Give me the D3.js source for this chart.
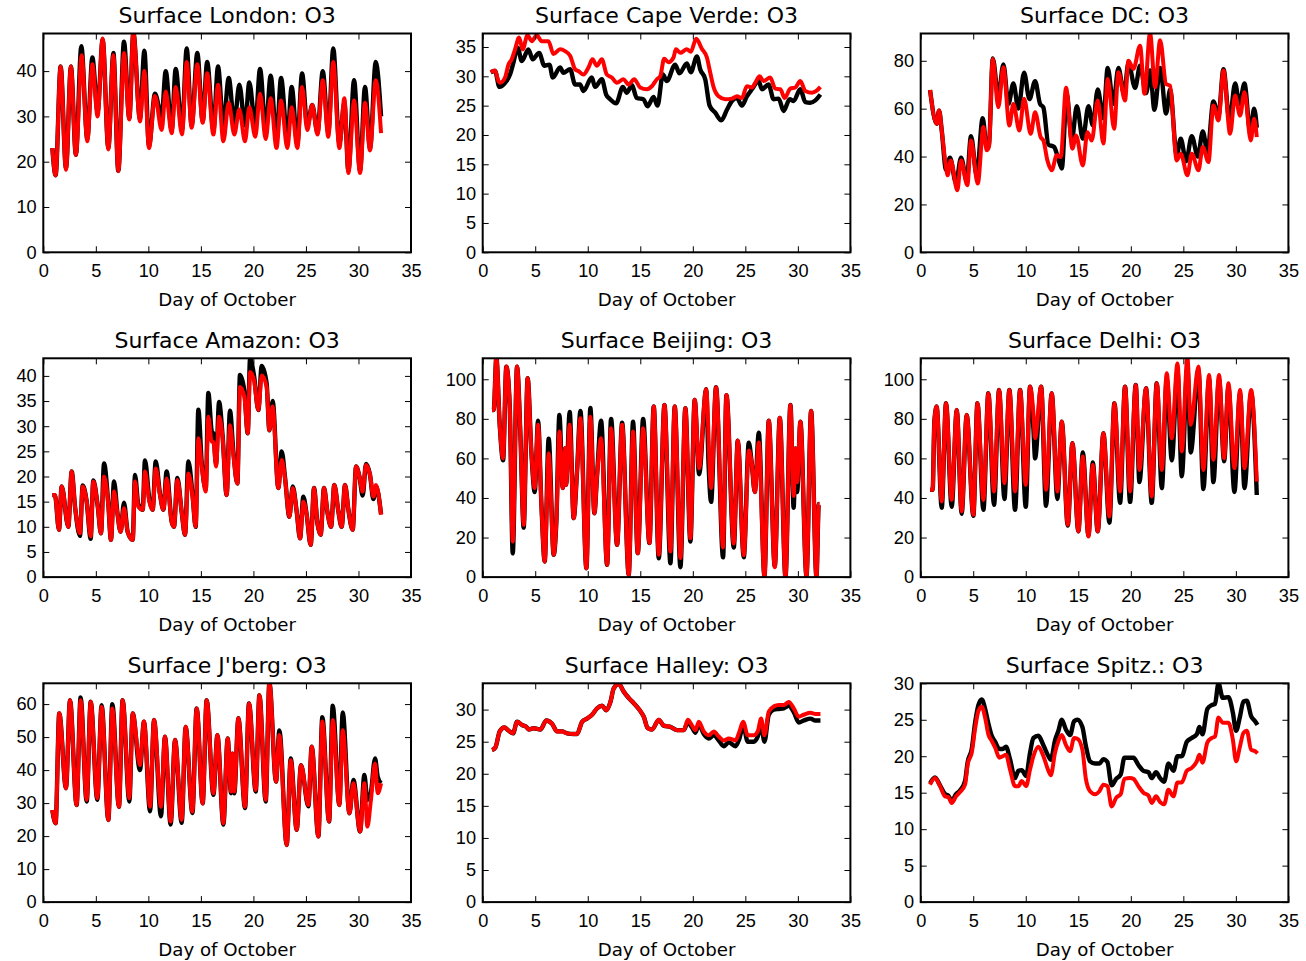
<!DOCTYPE html>
<html>
<head>
<meta charset="utf-8">
<script src="https://cdn.jsdelivr.net/npm/d3@7"></script>
<style>
  body { margin: 0; background: #fff; }
  svg { display: block; font-family: "DejaVu Sans", sans-serif; }
  .tick line { stroke: #000; stroke-width: 1; }
  .tick text { fill: #000; font-size: 18.2px; }
</style>
</head>
<body>
<svg id="chart" width="1306" height="961"></svg>
<script>
// ---- data: [day of October, O3] pairs ----
var xTicks = [0, 5, 10, 15, 20, 25, 30, 35];

var londonBlack = [[0.86,23],[1.17,17],[1.65,41],[2.16,18.5],[2.63,41],[3.1,21.5],[3.62,45.5],[4.19,25],[4.67,43],[5.17,31],[5.65,47],[6.19,23],[6.67,44],[7.14,18],[7.68,46.5],[8.19,29.5],[8.57,48.5],[9.2,29.5],[9.62,44.5],[10.06,23.5],[10.63,35],[11.27,30],[11.65,40],[12.22,27],[12.6,40.5],[13.2,27],[13.65,45],[14.12,28],[14.66,44],[15.17,29],[15.6,42],[16.19,27],[16.63,41],[17.14,28],[17.65,38.5],[18.18,28.5],[18.66,37],[19.2,28],[19.61,37.5],[20.18,28],[20.63,40.5],[21.17,27],[21.64,39],[22.2,25],[22.63,38.5],[23.23,25],[23.64,36.5],[24.18,24],[24.63,39.5],[25.13,28],[25.6,32.5],[26.1,26.5],[26.6,40],[27.13,26.5],[27.6,45],[28.18,24],[28.66,33],[29.04,18],[29.58,38],[30.15,18],[30.62,36.5],[31.1,23],[31.64,42],[32.15,30]];
var londonRed = [[0.86,23],[1.17,17],[1.65,41],[2.16,18.2],[2.63,41],[3.1,21.5],[3.65,43.5],[4.19,24.5],[4.67,41.5],[5.17,30],[5.65,47.2],[6.19,22.7],[6.67,43.5],[7.14,17.9],[7.68,44],[8.19,29.3],[8.57,48.5],[9.2,28.9],[9.62,40],[10.06,23],[10.63,34.5],[11.27,27],[11.65,35.5],[12.22,26.3],[12.6,36.5],[13.2,26],[13.65,42],[14.12,27.5],[14.66,41.5],[15.17,28.6],[15.6,39.5],[16.19,26],[16.63,37],[17.14,24.5],[17.65,33],[18.18,26],[18.66,31.5],[19.2,24.5],[19.61,32],[20.18,25.5],[20.63,35],[21.17,25],[21.64,34],[22.2,23],[22.63,33.5],[23.23,23],[23.64,32],[24.18,23],[24.63,36.5],[25.13,27],[25.6,32.5],[26.1,26],[26.6,38],[27.13,25.5],[27.6,42],[28.18,23],[28.66,34],[29.04,17.5],[29.58,33.5],[30.15,17.5],[30.62,33],[31.1,22.5],[31.64,38],[32.15,26.3]];

var capeBlack = [[0.76,30.7],[1.17,30.9],[1.59,28.2],[2.13,28.9],[2.6,30.3],[2.92,32.3],[3.33,34.9],[3.72,32.6],[4.35,34.6],[4.76,32.9],[5.37,34],[5.87,31.8],[6.35,32],[6.67,29.8],[7.37,31.5],[7.68,30.6],[8.32,31.2],[8.8,28.6],[9.27,28.6],[9.59,27.5],[10.38,29.8],[10.7,28.2],[11.34,29.5],[11.75,26.9],[12.13,26.1],[12.7,25.4],[13.34,28.2],[13.72,27.2],[14.19,28.5],[14.67,26.3],[15.3,26.1],[15.69,24.9],[16.26,26.5],[16.64,25],[17.15,30.3],[17.53,29.2],[18.32,32],[18.73,30.5],[19.43,32.2],[19.81,30.7],[20.39,33.4],[20.7,31.2],[21.18,29.5],[21.6,25],[22.13,23.8],[22.71,22.5],[23.25,24.3],[23.72,25.8],[24.2,26.3],[24.67,25],[25.15,26.6],[25.63,27.8],[26.26,29.2],[26.58,27.8],[27.21,28.6],[27.69,26.1],[28.17,26.2],[28.64,24.1],[29.22,26.1],[29.6,25.8],[30.23,27.8],[30.71,25.6],[31.18,25.5],[31.66,25.9],[32.14,26.9]];
var capeRed = [[0.76,30.7],[1.17,31],[1.5,29.2],[1.65,28.9],[2.13,29.8],[2.45,32],[2.76,32.9],[3.08,34.6],[3.46,36.6],[3.81,34.6],[4.26,37],[4.67,36],[5.14,37],[5.62,36],[6.26,36],[6.73,33.8],[7.37,34.6],[7.84,34.3],[8.32,33.5],[8.8,31.2],[9.11,30.9],[9.59,30.3],[10.07,31.5],[10.45,32.9],[10.86,31.8],[11.34,32.9],[11.81,30.3],[12.29,29.8],[12.77,28.9],[13.4,29.5],[13.88,28.6],[14.42,29.5],[14.99,28.1],[15.62,27.8],[16.1,28.3],[16.58,29.5],[16.9,30],[17.27,33],[17.69,32.4],[18.16,33.2],[18.39,34.6],[18.8,34],[19.43,34.6],[19.81,34.2],[20.32,36.4],[20.86,34.7],[21.34,33.2],[21.66,30.6],[21.97,28.2],[22.45,26.6],[23.09,26.1],[23.72,26.2],[24.2,26.6],[24.67,26.3],[25.15,28.3],[25.63,28.1],[25.94,28.9],[26.36,30],[26.74,29.2],[27.37,29.8],[27.85,27.9],[28.33,27.8],[28.74,26.3],[29.28,27.9],[29.76,28.1],[30.23,29.2],[30.71,27.5],[31.34,27.2],[31.76,27.5],[32.14,28.2]];

var dcBlack = [[0.89,67.8],[1.52,53.7],[1.75,59.2],[2.0,51],[2.41,34.5],[2.79,39.5],[3.36,29],[3.84,39.5],[4.38,30],[4.79,48.5],[5.33,32],[5.9,56],[6.28,44],[6.5,45],[6.86,81],[7.39,65],[7.87,78.5],[8.35,62],[8.82,70.5],[9.3,60],[9.84,75],[10.35,64],[10.89,71.5],[11.36,62],[11.68,60.5],[12.16,45],[12.7,44],[13.1,39],[13.43,35],[13.9,66],[14.38,47],[14.86,61],[15.43,47.5],[15.97,61],[16.38,53],[16.85,68],[17.39,56],[17.8,77],[18.34,62],[18.82,77],[19.36,66],[19.77,79],[20.41,68.7],[20.88,78],[21.46,66.5],[21.83,76],[22.25,59.5],[22.79,77],[23.36,58],[23.74,68],[24.37,40.5],[24.75,47.5],[25.26,38],[25.8,48.5],[26.38,40],[26.85,50.5],[27.3,42],[27.86,63],[28.34,57],[28.82,76.5],[29.39,55],[29.93,70.5],[30.34,62],[30.82,70.5],[31.36,50.5],[31.74,60],[31.99,52]];
var dcRed = [[0.89,67.8],[1.52,53.7],[1.75,59.2],[2.0,50.9],[2.41,35.6],[2.57,32.2],[2.86,38.4],[3.49,25.9],[3.84,38.4],[4.44,28],[4.79,46.7],[5.43,28.7],[5.97,52.3],[6.28,42.6],[6.5,44],[6.86,80.7],[7.39,60.6],[7.87,77.3],[8.44,53],[8.82,62],[9.39,50.9],[9.84,64.1],[10.47,49.5],[10.89,58.5],[11.42,48.1],[11.68,46.7],[12.06,38.4],[12.47,34.3],[12.95,40.5],[13.33,39.8],[13.84,68.7],[14.44,43.3],[14.79,48.8],[15.43,36.3],[15.87,50.2],[16.28,46.7],[16.85,63.4],[17.39,45.4],[17.8,72.4],[18.41,51.6],[18.82,75.2],[19.45,63.4],[19.77,80],[20.25,76.6],[20.88,86.3],[21.3,66.2],[21.83,91.5],[22.31,69],[22.79,88.6],[23.36,70.3],[23.74,69.6],[24.37,38.4],[24.75,41.2],[25.39,32.2],[25.8,41.2],[26.44,34.3],[26.85,44],[27.39,37.7],[27.86,61.3],[28.34,55.1],[28.82,75.9],[29.45,49.5],[29.93,65.5],[30.4,57.1],[30.82,66.9],[31.42,46.7],[31.74,55.8],[31.99,48.1]];

var amazonBlack = [[0.86,16.3],[1.11,16.3],[1.49,9.4],[1.75,18],[2.38,10],[2.7,21],[3.02,14],[3.49,8.2],[3.75,18.2],[4.13,15],[4.51,7.6],[4.76,19.2],[5.17,14.3],[5.49,8.7],[5.78,22.6],[6.19,14.5],[6.44,7.4],[6.73,19],[7.05,12.9],[7.36,9],[7.68,14.8],[8.03,9],[8.51,7.4],[8.73,20.3],[9.04,14.5],[9.46,13.4],[9.68,23.2],[10.09,15.5],[10.41,13.4],[10.7,23],[11.11,16.5],[11.43,13.4],[11.74,21],[12.22,11],[12.44,10],[12.76,19.7],[13.17,13],[13.49,8.4],[13.81,23],[14.22,16],[14.5,10],[14.76,33.3],[15.07,23],[15.46,17.5],[15.71,36.6],[16.03,29],[16.19,28.5],[16.44,22.5],[16.73,34.8],[17.07,28],[17.45,16.3],[17.77,33.1],[18.09,25],[18.47,18.6],[18.72,40.2],[19.14,37],[19.46,28.6],[19.68,43.5],[20.06,40],[20.47,33.2],[20.79,42],[21.26,38.5],[21.52,29.2],[21.83,35],[22.37,17.7],[22.69,25],[23.01,19.8],[23.42,12],[23.74,18],[24.12,13],[24.44,7.7],[24.75,16],[25.07,12.4],[25.45,6.4],[25.77,17.7],[26.09,10.7],[26.4,8.4],[26.72,17.7],[27.04,13],[27.39,10],[27.7,18.3],[28.09,13],[28.4,10],[28.72,18.3],[29.04,13.4],[29.45,9.4],[29.77,22],[30.09,20],[30.4,16.2],[30.72,22.5],[31.1,20.3],[31.42,15.5],[31.67,18],[32.15,12.5]];
var amazonRed = [[0.86,16.3],[1.11,16.3],[1.49,9.4],[1.75,18],[2.38,10],[2.7,21],[3.02,14],[3.49,8.7],[3.75,18],[4.13,15],[4.51,8.1],[4.76,19],[5.17,14.3],[5.49,8.7],[5.78,20],[6.19,14.3],[6.44,7.4],[6.73,17],[7.05,12.7],[7.36,9],[7.68,13.7],[8.03,9],[8.51,7.4],[8.73,19],[9.04,14],[9.46,13.4],[9.68,21],[10.09,15],[10.41,13.4],[10.7,21.6],[11.11,16.3],[11.43,13.4],[11.74,19.6],[12.22,11],[12.44,10],[12.76,19.3],[13.17,13],[13.49,8.4],[13.81,20.6],[14.22,15.7],[14.5,10],[14.76,27.6],[15.07,22.3],[15.46,17],[15.71,31.9],[16.03,26.9],[16.19,26.9],[16.44,22],[16.73,31.9],[17.07,27.6],[17.45,16.3],[17.77,30.2],[18.09,24.3],[18.47,18.6],[18.72,37.8],[19.14,35.8],[19.46,28.6],[19.68,40.8],[20.06,39.1],[20.47,33.2],[20.79,40.1],[21.26,37.8],[21.52,29.2],[21.83,33.9],[22.37,17.7],[22.69,23.3],[23.01,19.6],[23.42,12],[23.74,17.7],[24.12,13],[24.44,7.7],[24.75,15],[25.07,12.4],[25.45,6.4],[25.77,17.7],[26.09,10.7],[26.4,8.4],[26.72,17.7],[27.04,13],[27.39,10],[27.7,18.3],[28.09,13],[28.4,10],[28.72,18.3],[29.04,13.4],[29.45,9.4],[29.77,22],[30.09,20],[30.4,17],[30.72,22.3],[31.1,20.3],[31.42,16],[31.67,18.3],[32.15,12.4]];

var beijingBlack = [[0.89,84.5],[1.05,84.5],[1.3,111],[1.62,77],[1.94,59],[2.25,106.4],[2.57,87],[2.86,12],[3.27,106.4],[3.59,71.9],[3.9,25],[4.28,100.5],[4.63,63.5],[4.95,43],[5.27,79],[5.59,36.5],[5.9,7.9],[6.28,70],[6.76,11.3],[7.01,28],[7.3,82],[7.62,45],[7.87,65.2],[7.93,46.6],[8.28,83.5],[8.66,29.8],[8.98,53.4],[9.3,84],[9.87,4.5],[10.25,85.5],[10.63,32.3],[10.89,51.7],[11.27,79],[11.84,6.2],[12.22,80],[12.79,16.3],[13.27,78],[13.9,1.2],[14.31,78.5],[14.76,12.1],[15.27,80],[15.87,17.2],[16.28,86.2],[16.76,9.5],[17.3,87],[17.87,7],[18.28,86.2],[18.82,5],[19.29,85.4],[19.77,18],[20.18,89.6],[20.6,52],[21.27,95],[21.5,57],[21.74,38],[22.21,96],[22.88,10],[23.2,92],[23.9,15],[24.28,69],[24.85,10],[25.33,68],[25.6,58],[25.9,43],[26.28,73],[26.82,0.5],[27.23,79],[27.8,5.5],[28.28,80.5],[28.82,0],[29.29,87],[29.6,35],[29.77,65],[29.93,43],[30.24,78.5],[30.82,0.5],[31.26,84],[31.77,0],[31.99,37],[32.05,37]];
var beijingRed = [[0.89,84.5],[1.05,84.5],[1.3,111],[1.62,77],[1.94,60],[2.25,106.4],[2.57,87],[2.86,18],[3.27,106.4],[3.59,71.9],[3.9,26.4],[4.28,100.5],[4.63,63.5],[4.95,45],[5.27,77],[5.59,36.5],[5.9,7.9],[6.28,62.6],[6.76,11.3],[7.01,28],[7.3,73.6],[7.62,45],[7.87,65.2],[7.93,46.6],[8.28,77],[8.66,29.8],[8.98,53.4],[9.3,80.3],[9.87,4.5],[10.25,81.1],[10.63,32.3],[10.89,51.7],[11.27,70.2],[11.84,6.2],[12.22,75.3],[12.79,16.3],[13.27,77],[13.9,1.2],[14.31,73.6],[14.76,12.1],[15.27,75.3],[15.87,17.2],[16.28,86.2],[16.76,11.3],[17.3,87],[17.87,13],[18.28,86.2],[18.82,9.6],[19.29,85.4],[19.77,19.7],[20.18,89.6],[20.6,55],[21.27,95],[21.74,45],[22.21,96],[22.88,15],[23.2,92],[23.9,17],[24.28,69],[24.85,11],[25.33,64],[25.6,58],[25.9,43],[26.28,68],[26.82,0.5],[27.23,79],[27.8,5],[28.28,80.5],[28.82,0],[29.29,87],[29.6,41],[29.77,65],[29.93,48],[30.24,78.5],[30.82,0.5],[31.26,84],[31.77,0],[31.99,37],[32.05,37]];

var delhiBlack = [[0.89,44.1],[1.14,44.1],[1.3,78.6],[1.52,86.2],[2.0,35],[2.41,87.9],[2.95,35.5],[3.43,84.5],[3.9,32],[4.38,82],[5.01,31],[5.4,87.9],[5.97,34],[6.44,92.9],[6.98,36.5],[7.46,94.6],[7.97,39.5],[8.44,94.6],[8.98,34],[9.46,94.6],[10.0,35.5],[10.41,96.3],[10.73,75],[10.89,60],[11.46,96.3],[11.93,36],[12.47,92.9],[13.01,39.5],[13.43,78.6],[14.0,26],[14.44,67.7],[15.01,23.1],[15.43,63],[15.97,21],[16.38,58],[16.85,23.1],[17.39,72.7],[17.96,27.5],[18.44,87.9],[18.98,37.5],[19.45,96.3],[19.93,38],[20.47,97.1],[20.82,48],[21.45,95.5],[21.99,37.5],[22.47,98],[22.95,45],[23.42,100],[23.9,59],[24.44,104],[24.85,51],[25.39,106],[25.7,63],[26.44,104],[26.91,44.5],[27.45,100],[27.86,48],[28.4,100],[28.88,58.5],[29.29,96],[29.86,43],[30.4,93],[30.82,45],[31.45,93],[31.99,41.5]];
var delhiRed = [[0.89,44.1],[1.14,44.1],[1.3,78.6],[1.52,86.2],[2.0,38.2],[2.41,87.9],[2.95,39],[3.43,84.5],[3.9,33.2],[4.38,82],[5.01,31.5],[5.4,87.9],[5.97,39],[6.44,92.9],[6.98,43.3],[7.46,94.6],[7.97,47.5],[8.44,94.6],[8.98,43.3],[9.46,94.6],[10.0,46.6],[10.41,96.3],[10.73,82.8],[10.89,70.2],[11.46,96.3],[11.93,44.1],[12.47,92.9],[13.01,43.3],[13.43,78.6],[14.0,26.4],[14.44,67.7],[15.01,23.1],[15.43,61],[15.97,20.5],[16.38,56.7],[16.85,23.1],[17.39,72.7],[17.96,30.6],[18.44,87.9],[18.98,43.3],[19.45,96.3],[19.93,43.3],[20.47,97.1],[20.82,54.2],[21.45,95.5],[21.99,40.7],[22.47,98],[22.95,54.2],[23.42,103],[23.9,70.2],[24.44,108],[24.85,63.5],[25.39,111],[25.7,77],[26.44,106.4],[26.91,54.2],[27.45,102.2],[27.86,59.3],[28.4,102.2],[28.88,60.1],[29.29,98],[29.86,55],[30.4,94.6],[30.82,55],[31.45,94.6],[31.99,48.3]];

var jbergBlack = [[0.86,27.9],[1.17,23.9],[1.52,57.2],[2.16,34.5],[2.54,61.2],[3.17,29.4],[3.55,62],[4.13,30.5],[4.51,60.7],[5.14,31],[5.55,59.7],[6.19,24.9],[6.57,60],[7.2,28.9],[7.55,61.2],[8.19,30.5],[8.51,57.2],[9.2,40],[9.58,54.7],[10.16,27.5],[10.54,55.2],[11.2,26],[11.58,50.1],[12.12,23.5],[12.54,49.1],[13.17,24],[13.55,53.1],[14.19,27],[14.6,58.7],[15.17,29.9],[15.55,61.2],[16.19,32.5],[16.57,50.6],[17.14,23.5],[17.55,49.6],[17.87,33],[18.0,45],[18.18,33],[18.57,55.7],[19.2,28.5],[19.58,60.2],[20.22,33.5],[20.57,62.7],[21.17,30.5],[21.52,66.5],[22.15,36.5],[22.47,52],[23.17,17.3],[23.55,43.5],[24.12,21.9],[24.53,41.5],[25.23,29],[25.55,47.1],[26.18,19.9],[26.56,56],[27.2,24.4],[27.55,59.5],[28.18,29.4],[28.5,57.5],[29.14,26.9],[29.52,37],[30.15,21.4],[30.56,38.5],[30.85,31],[31.17,33],[31.58,43.5],[31.83,38],[32.15,36]];
var jbergRed = [[0.86,27.9],[1.17,23.9],[1.52,57.2],[2.16,34.5],[2.54,61.2],[3.17,29.4],[3.55,61.2],[4.13,31],[4.51,60.7],[5.14,31.5],[5.55,59.2],[6.19,24.9],[6.57,58.7],[7.2,28.9],[7.55,61.2],[8.19,31.5],[8.51,57.2],[9.2,41.5],[9.58,54.7],[10.16,28.9],[10.54,55.2],[11.2,28.9],[11.58,50.1],[12.12,24.4],[12.54,49.1],[13.17,24.9],[13.55,53.1],[14.19,27.4],[14.6,58.7],[15.17,29.9],[15.55,61.2],[16.19,33],[16.57,50.6],[17.14,23.9],[17.55,49.6],[17.87,33.5],[18.0,45],[18.18,33.5],[18.57,55.7],[19.2,28.9],[19.58,60.2],[20.22,34],[20.57,62.7],[21.17,31],[21.52,66.5],[22.15,36.5],[22.47,50.6],[23.17,17.3],[23.55,43],[24.12,21.9],[24.53,41.5],[25.23,29.4],[25.55,47.1],[26.18,19.9],[26.56,54.7],[27.2,24.4],[27.55,55.2],[28.18,29.4],[28.5,52.1],[29.14,26.9],[29.52,36],[30.15,21.4],[30.56,36],[30.85,22.9],[31.17,30.5],[31.58,42],[31.83,33],[32.15,36]];

var halleyBlack = [[0.89,23.7],[1.21,24.1],[1.62,26.6],[2.06,27.2],[2.48,26.7],[2.89,26.3],[3.27,28.1],[3.75,27.6],[4.16,27.3],[4.38,26.9],[4.86,27.1],[5.49,26.9],[6.06,28.3],[6.6,27.8],[7.08,26.6],[7.56,26.6],[8.03,26.3],[8.66,26.2],[8.98,26.2],[9.46,28.1],[9.93,28.6],[10.41,29.2],[10.89,30.2],[11.36,30.6],[11.77,29.9],[12.16,31.2],[12.47,33.3],[12.95,34],[13.42,32.8],[13.9,31.8],[14.38,31],[14.95,29.9],[15.33,28.9],[15.71,27.1],[16.12,26.9],[16.76,28.4],[17.23,27.5],[17.87,27.3],[18.5,26.8],[19.14,26.8],[19.52,28],[19.93,27.2],[20.25,26.4],[20.57,27.7],[21.04,26.2],[21.52,25.5],[22.0,26],[22.47,25.2],[22.95,24.3],[23.42,24.9],[24.06,24.3],[24.44,25.5],[24.79,27.5],[25.23,25],[25.8,25],[26.18,25.8],[26.5,27.5],[26.82,25],[27.23,29.2],[27.71,30],[28.18,30.1],[28.66,30.2],[29.14,30.6],[29.61,29.6],[30.09,28],[30.56,28.3],[31.2,28.6],[31.67,28.3],[32.15,28.3]];
var halleyRed = [[0.89,23.7],[1.21,24.1],[1.62,26.6],[2.06,27.2],[2.48,26.7],[2.89,26.3],[3.27,28.1],[3.75,27.6],[4.16,27.3],[4.38,26.9],[4.86,27.1],[5.49,26.9],[6.06,28.3],[6.6,27.8],[7.08,26.6],[7.56,26.6],[8.03,26.3],[8.66,26.2],[8.98,26.2],[9.46,28.1],[9.93,28.6],[10.41,29.2],[10.89,30.2],[11.36,30.6],[11.77,29.9],[12.16,31.2],[12.47,33.3],[12.95,34],[13.42,32.8],[13.9,31.8],[14.38,31],[14.95,29.9],[15.33,28.9],[15.71,27.1],[16.12,26.9],[16.76,28.4],[17.23,27.5],[17.87,27.3],[18.5,26.8],[19.14,26.8],[19.52,28.4],[19.93,27.5],[20.25,26.8],[20.57,28.1],[21.04,26.6],[21.52,26],[22.0,26.6],[22.47,25.8],[22.95,25.2],[23.42,25.5],[24.06,25.2],[24.44,26.6],[24.79,28.1],[25.23,26],[25.8,26],[26.18,26.6],[26.5,28.6],[26.82,26],[27.23,29.7],[27.71,30.5],[28.18,30.7],[28.66,30.7],[29.14,31.2],[29.61,30.2],[30.09,28.9],[30.56,29.2],[31.2,29.5],[31.67,29.3],[32.15,29.3]];

var spitzBlack = [[0.89,16.3],[1.36,17.1],[1.84,16],[2.32,14.8],[2.63,14.6],[2.95,13.9],[3.36,14.8],[3.74,15.3],[4.22,16.6],[4.47,19.2],[4.86,21],[5.17,24.5],[5.49,27],[5.81,27.8],[6.13,26.5],[6.44,24.5],[6.76,22.8],[7.08,22],[7.49,21],[7.81,21],[8.12,21.3],[8.5,19.6],[8.98,17],[9.3,18],[9.62,18.1],[10.03,17.3],[10.41,20.5],[10.73,22.5],[11.2,22.8],[11.68,21.5],[12.16,20],[12.38,19.5],[12.79,22.2],[13.11,23.5],[13.43,25],[13.81,23.7],[14.22,22.9],[14.6,24.8],[14.92,25],[15.39,24],[15.71,21.5],[16.12,19.3],[16.6,19],[17.01,19],[17.39,19.6],[17.77,19.2],[18.18,16],[18.6,16.9],[19.04,17.5],[19.39,19.8],[19.93,19.8],[20.25,19.8],[20.72,18.8],[21.2,18],[21.68,17.8],[21.99,17],[22.4,17.8],[22.79,17],[23.17,16.5],[23.58,19],[24.06,18],[24.44,20],[24.85,20],[25.33,22],[25.8,22.5],[26.28,23],[26.53,24],[26.82,23],[27.29,26.5],[27.7,27],[28.02,27.2],[28.34,30],[28.75,28],[29.29,28.1],[29.71,26],[30.02,23.5],[30.4,25.5],[30.72,27.5],[31.04,27.6],[31.45,25.5],[31.83,24.8],[32.06,24.3]];
var spitzRed = [[0.89,16.1],[1.36,17],[1.84,15.9],[2.32,14.5],[2.63,14.4],[2.95,13.6],[3.36,14.5],[3.74,15.1],[4.22,16.1],[4.47,18.9],[4.86,20.5],[5.17,23.7],[5.49,26.2],[5.81,26.8],[6.13,25.3],[6.44,23],[6.76,22.1],[7.08,21.2],[7.49,19.8],[7.81,20],[8.12,20.2],[8.5,18.2],[8.98,15.9],[9.3,15.9],[9.62,16.6],[10.03,15.9],[10.41,18.2],[10.73,20],[11.2,21.3],[11.68,20],[12.16,18],[12.38,17.4],[12.79,20.5],[13.11,22.1],[13.43,22.9],[13.81,21.6],[14.22,20.7],[14.6,22.5],[14.92,22.4],[15.39,20.9],[15.71,17],[16.12,15.2],[16.6,14.8],[17.01,15.2],[17.39,16.1],[17.77,15.9],[18.18,13.1],[18.6,14.3],[19.04,14.8],[19.39,16.9],[19.93,17],[20.25,16.9],[20.72,15.9],[21.2,15],[21.68,14.6],[21.99,13.6],[22.4,14.5],[22.79,13.7],[23.17,13.4],[23.58,15.4],[24.06,14.5],[24.44,16.4],[24.85,16.4],[25.33,18],[25.8,18.4],[26.28,19.3],[26.53,20.2],[26.82,19.1],[27.29,21.9],[27.7,22.5],[28.02,22.7],[28.34,25.3],[28.75,24.6],[29.29,24.6],[29.71,22.3],[30.02,19.3],[30.4,21.4],[30.72,23.2],[31.04,23.5],[31.45,20.9],[31.83,20.7],[32.06,20.4]];

var titles = ["Surface London: O3", "Surface Cape Verde: O3", "Surface DC: O3",
              "Surface Amazon: O3", "Surface Beijing: O3", "Surface Delhi: O3",
              "Surface J'berg: O3", "Surface Halley: O3", "Surface Spitz.: O3"];
var yMax = [48.3, 37.3, 91.4, 43.5, 110.6, 110.6, 66.3, 34.1, 30];
var yTicks = [[0,10,20,30,40], [0,5,10,15,20,25,30,35], [0,20,40,60,80],
              [0,5,10,15,20,25,30,35,40], [0,20,40,60,80,100], [0,20,40,60,80,100],
              [0,10,20,30,40,50,60], [0,5,10,15,20,25,30], [0,5,10,15,20,25,30]];
var blackSeries = [londonBlack, capeBlack, dcBlack, amazonBlack, beijingBlack, delhiBlack, jbergBlack, halleyBlack, spitzBlack];
var redSeries = [londonRed, capeRed, dcRed, amazonRed, beijingRed, delhiRed, jbergRed, halleyRed, spitzRed];

// ---- layout ----
var svg = d3.select("#chart");
var colLeft = [43.3, 482.7, 920.7];
var rowTop = [33.5, 358.3, 683.3];
var pw = 367.7, ph = 218.8, tick = 6;

titles.forEach(function(title, i) {
	var x0 = colLeft[i % 3], y0 = rowTop[Math.floor(i / 3)];
	var g = svg.append("g").attr("transform", "translate(" + x0 + "," + y0 + ")");

	var x = d3.scaleLinear().domain([0, 35]).range([0, pw]);
	var y = d3.scaleLinear().domain([0, yMax[i]]).range([ph, 0]);

	g.append("clipPath").attr("id", "clip" + i)
		.append("rect").attr("width", pw).attr("height", ph);

	var line = d3.line()
		.x(function(d) { return x(d[0]); })
		.y(function(d) { return y(d[1]); })
		.curve(d3.curveMonotoneX);

	var plot = g.append("g").attr("clip-path", "url(#clip" + i + ")");
	plot.append("path").datum(blackSeries[i])
		.attr("d", line).attr("fill", "none").attr("stroke", "#000")
		.attr("stroke-width", 4.4).attr("stroke-linejoin", "round");
	plot.append("path").datum(redSeries[i])
		.attr("d", line).attr("fill", "none").attr("stroke", "#ff0000")
		.attr("stroke-width", 4).attr("stroke-linejoin", "round");

	// axes: ticks pointing in on all four sides
	g.append("g").attr("transform", "translate(0," + ph + ")")
		.call(d3.axisBottom(x).tickValues(xTicks).tickSizeInner(-tick).tickSizeOuter(0).tickPadding(11.5));
	g.append("g")
		.call(d3.axisTop(x).tickValues(xTicks).tickSizeInner(-tick).tickSizeOuter(0).tickFormat(""));
	g.append("g")
		.call(d3.axisLeft(y).tickValues(yTicks[i]).tickSizeInner(-tick).tickSizeOuter(0).tickPadding(6.6));
	g.append("g").attr("transform", "translate(" + pw + ",0)")
		.call(d3.axisRight(y).tickValues(yTicks[i]).tickSizeInner(-tick).tickSizeOuter(0).tickFormat(""));
	g.selectAll(".domain").remove();

	g.append("rect").attr("width", pw).attr("height", ph)
		.attr("fill", "none").attr("stroke", "#000").attr("stroke-width", 2);

	g.append("text").attr("x", pw / 2).attr("y", -10.5)
		.attr("text-anchor", "middle").attr("font-size", 22).text(title);
	g.append("text").attr("x", pw / 2).attr("y", ph + 53.5)
		.attr("text-anchor", "middle").attr("font-size", 18.2).text("Day of October");
});
</script>
</body>
</html>
